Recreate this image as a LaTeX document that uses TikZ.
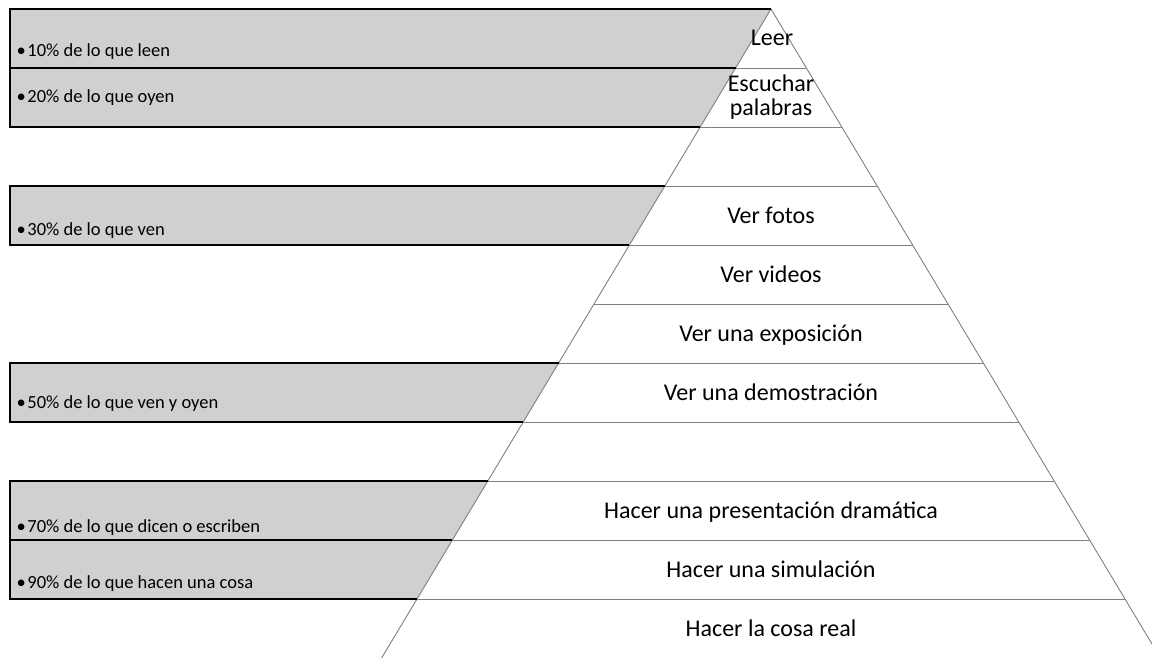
\documentclass[tikz,border=0pt]{standalone}
\usepackage{fontspec}
\setmainfont{Carlito}
\definecolor{boxgray}{HTML}{D0D0D0}
\definecolor{pyrline}{HTML}{808080}
\tikzset{
  boxfill/.style={fill=boxgray, draw=none},
  boxedge/.style={draw=black, line width=1.4pt, line join=miter},
  pyredge/.style={draw=pyrline, line width=0.9pt},
  boxtext/.style={anchor=base west, inner sep=0pt, font=\fontsize{18.5}{20}\selectfont},
  pyrtext/.style={anchor=base, inner sep=0pt, font=\fontsize{24}{27}\selectfont},
}
% left / right edge of the pyramid at band boundary k: y = 9 + 59k, half-width 35.4k
\newcommand{\PyrY}[1]{\fpeval{9+59*(#1)}}
\newcommand{\PyrL}[1]{\fpeval{771-35.4*(#1)}}
\newcommand{\PyrR}[1]{\fpeval{771+35.4*(#1)}}
\newcommand{\GrayBox}[1]{%
  \fill[boxfill] (10,\PyrY{#1}) -- (\PyrL{#1},\PyrY{#1}) -- (\PyrL{#1+1},\PyrY{#1+1}) -- (10,\PyrY{#1+1}) -- cycle;}
\newcommand{\GrayEdge}[1]{%
  \draw[boxedge] (\PyrL{#1},\PyrY{#1}) -- (10,\PyrY{#1}) -- (10,\PyrY{#1+1}) -- (\PyrL{#1+1},\PyrY{#1+1});}
\newcommand{\bul}{•\kern1.5pt}
\begin{document}
\begin{tikzpicture}[x=1pt,y=-1pt]
\useasboundingbox (0,0) rectangle (1152,658);
\clip (0,0) rectangle (1152,658);
\fill[white] (0,0) rectangle (1152,658);
% pyramid body
\coordinate (apex) at (771,9);
\coordinate (bl) at (\PyrL{11},\PyrY{11});
\coordinate (br) at (\PyrR{11},\PyrY{11});
\fill[white] (apex) -- (br) -- (bl) -- cycle;
% gray boxes
\foreach \k in {0,1,3,6,8,9} {\GrayBox{\k}}
% pyramid band lines and sides
\foreach \k in {1,...,10} {\draw[pyredge] (\PyrL{\k},\PyrY{\k}) -- (\PyrR{\k},\PyrY{\k});}
\draw[pyredge] (bl) -- (apex) -- (br);
% black outlines of the boxes
\foreach \k in {0,1,3,6,8,9} {\GrayEdge{\k}}
% box texts
\node[boxtext] (t10) at (16.5,57) {\bul 10\% de lo que leen};
\node[boxtext] (t20) at (16.5,103) {\bul 20\% de lo que oyen};
\node[boxtext] (t30) at (16.5,235) {\bul 30\% de lo que ven};
\node[boxtext] (t50) at (16.5,408) {\bul 50\% de lo que ven y oyen};
\node[boxtext] (t70) at (16.5,532) {\bul 70\% de lo que dicen o escriben};
\node[boxtext] (t90) at (16.5,588) {\bul 90\% de lo que hacen una cosa};
% pyramid labels
\node[pyrtext] (l1) at (772,45.5) {Leer};
\node[pyrtext] (l2a) at (771,92) {Escuchar};
\node[pyrtext] (l2b) at (771,116) {palabras};
\node[pyrtext] (l4) at (771,223) {Ver fotos};
\node[pyrtext] (l5) at (771,282) {Ver videos};
\node[pyrtext] (l6) at (771,341) {Ver una exposición};
\node[pyrtext] (l7) at (771,400) {Ver una demostración};
\node[pyrtext] (l9) at (771,518) {Hacer una presentación dramática};
\node[pyrtext] (l10) at (771,577) {Hacer una simulación};
\node[pyrtext] (l11) at (771,636) {Hacer la cosa real};
\end{tikzpicture}
\end{document}
